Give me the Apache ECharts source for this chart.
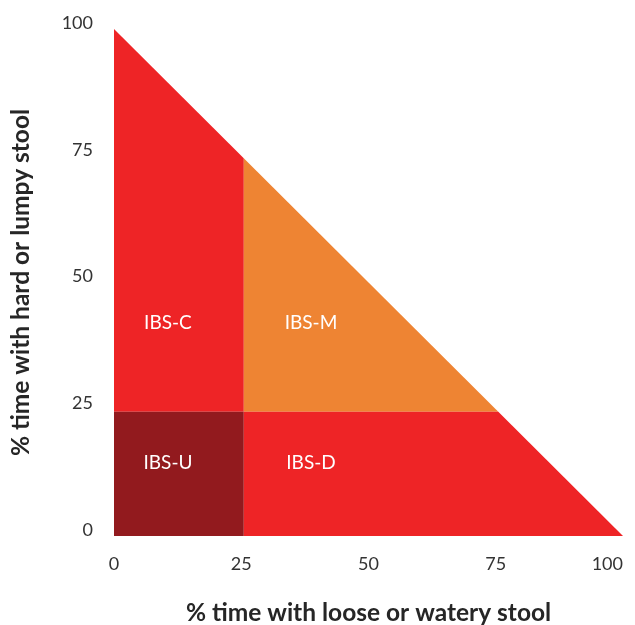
<!DOCTYPE html>
<html><head><meta charset="utf-8">
<script src="https://cdn.jsdelivr.net/npm/echarts@6/dist/echarts.min.js"></script>
<style>html,body{margin:0;padding:0;background:#fff}#c{width:635px;height:625px}</style>
</head><body><div id="c"></div>
<script>
// Categories (subtypes)
const categories = ['IBS-C', 'IBS-M', 'IBS-U', 'IBS-D'];
// Region vertices in data units: [% loose/watery, % hard/lumpy]
const polyC = [[0, 24.5], [0, 100], [25.5, 74.5], [25.5, 24.5]];
const polyM = [[25.5, 24.5], [25.5, 74.5], [75.5, 24.5]];
const polyU = [[0, 0], [0, 24.5], [25.5, 24.5], [25.5, 0]];
const polyD = [[25.5, 0], [25.5, 24.5], [75.5, 24.5], [100, 0]];
const polygons = [polyC, polyM, polyU, polyD];
// Label anchor positions in data units
const labelX = [10.6, 38.7, 10.6, 38.7];
const labelY = [42, 42, 14.4, 14.4];
// Axis ticks
const xTicks = [0, 25, 50, 75, 100];
const yTicks = [0, 25, 50, 75, 100];
const colors = ['#EE2426', '#EE8433', '#921A1E', '#EE2426'];

const FONT = 'Lato';
const chart = echarts.init(document.getElementById('c'), null, {renderer: 'canvas'});
chart.setOption({
  animation: false,
  grid: {left: 114, right: 12, top: 29, bottom: 89, containLabel: false, outerBoundsMode: 'none'},
  xAxis: {
    type: 'value', min: xTicks[0], max: xTicks[xTicks.length - 1], interval: 25,
    axisLine: {show: false}, axisTick: {show: false}, splitLine: {show: false},
    axisLabel: {color: '#333', fontSize: 18, margin: 19, fontFamily: FONT, alignMaxLabel: 'right'},
    name: '% time with loose or watery stool', nameLocation: 'middle', nameGap: 65,
    nameTextStyle: {color: '#262626', fontSize: 24.5, fontWeight: 'bold', fontFamily: FONT}
  },
  yAxis: {
    type: 'value', min: yTicks[0], max: yTicks[yTicks.length - 1], interval: 25,
    axisLine: {show: false}, axisTick: {show: false}, splitLine: {show: false},
    axisLabel: {color: '#333', fontSize: 18, margin: 21, fontFamily: FONT, verticalAlign: 'bottom', lineHeight: 12},
    name: '% time with hard or lumpy stool', nameLocation: 'middle', nameGap: 80,
    nameTextStyle: {color: '#262626', fontSize: 24.5, fontWeight: 'bold', fontFamily: FONT}
  },
  series: [{
    type: 'custom',
    data: categories.map((c, i) => [labelX[i], labelY[i], i]),
    renderItem: function (params, api) {
      const i = api.value(2);
      const pts = polygons[i].map(p => api.coord(p));
      const lp = api.coord([api.value(0), api.value(1)]);
      return {
        type: 'group',
        children: [
          {type: 'polygon', shape: {points: pts}, style: {fill: colors[i], stroke: null}},
          {type: 'text', x: lp[0], y: lp[1], style: {text: categories[params.dataIndex], fill: '#fff', fontSize: 19, fontFamily: FONT, align: 'center', verticalAlign: 'middle'}}
        ]
      };
    }
  }]
});
</script></body></html>
